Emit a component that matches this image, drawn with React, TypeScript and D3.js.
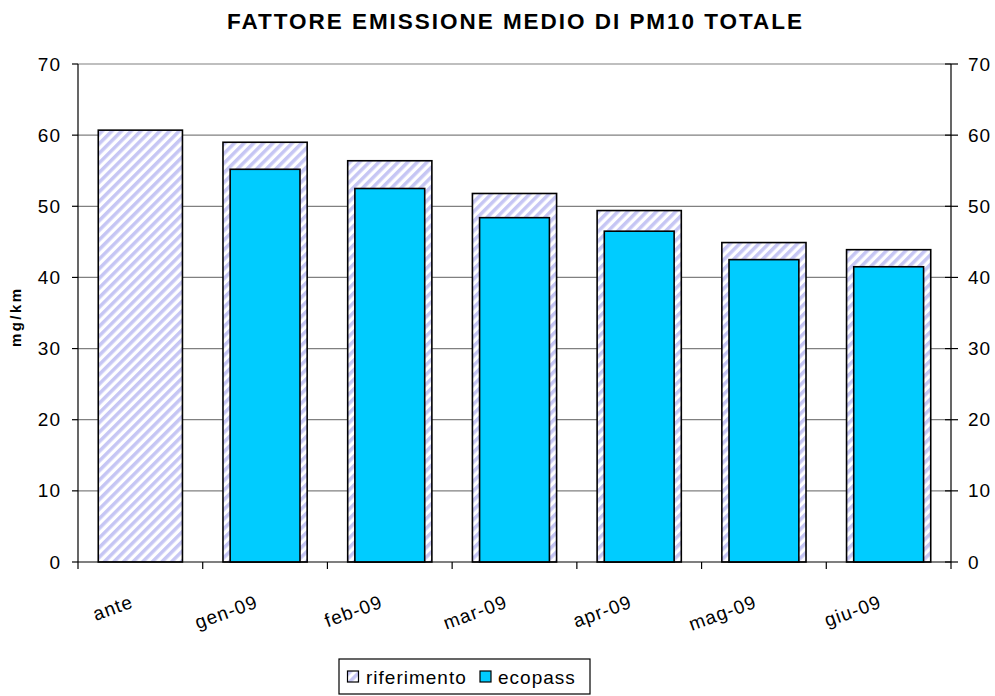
import React from "react";
import * as d3 from "d3";

const categories = ["ante", "gen-09", "feb-09", "mar-09", "apr-09", "mag-09", "giu-09"];
const riferimento = [60.7, 59.0, 56.4, 51.8, 49.4, 44.9, 43.9];
const ecopass: (number | null)[] = [null, 55.2, 52.5, 48.4, 46.5, 42.5, 41.5];
const yTicks = [0, 10, 20, 30, 40, 50, 60, 70];
const title = "FATTORE EMISSIONE MEDIO DI PM10 TOTALE";
const yLabel = "mg/km";
const seriesNames = ["riferimento", "ecopass"];

const W = 995;
const H = 696;
const X0 = 78;
const X1 = 951;
const YTOP = 64;
const YBOT = 562;
const FONT = "'Liberation Sans', Arial, sans-serif";
const CYAN = "#00ccff";
const STRIPE = "#c6c6f4";

export default function App() {
  const x = d3.scaleBand<string>().domain(categories).range([X0, X1]).padding(0);
  const y = d3.scaleLinear().domain([0, 70]).range([YBOT, YTOP]);
  const step = x.step();
  const wRif = step * 0.675;
  const wEco = step * 0.56;
  const midX = (X0 + X1) / 2;

  return (
    <svg
      width={W}
      height={H}
      style={{ position: "absolute", left: 0, top: 0, background: "#fff" }}
      fontFamily={FONT}
    >
      <defs>
        <pattern
          id="hatch"
          width={6.8}
          height={6.8}
          patternUnits="userSpaceOnUse"
          patternTransform="rotate(45)"
        >
          <rect x={0} y={0} width={6.8} height={6.8} fill="#ffffff" />
          <rect x={0} y={0} width={3.5} height={6.8} fill={STRIPE} />
        </pattern>
      </defs>
      <rect x={0} y={0} width={W} height={H} fill="#fff" />

      {/* title */}
      <text
        x={midX}
        y={29}
        textAnchor="middle"
        fontSize={22.5}
        fontWeight="bold"
        textLength={575}
        lengthAdjust="spacing"
        fill="#000"
      >
        {title}
      </text>

      {/* gridlines */}
      {yTicks.filter((t) => t > 0).map((t) => (
        <line key={"g" + t} x1={X0} x2={X1} y1={y(t)} y2={y(t)} stroke="#808080" strokeWidth={1.2} />
      ))}

      {/* bars */}
      {categories.map((c, i) => {
        const cx = (x(c) as number) + step / 2;
        const r = riferimento[i];
        const e = ecopass[i];
        return (
          <g key={c}>
            <rect
              x={cx - wRif / 2}
              y={y(r)}
              width={wRif}
              height={YBOT - y(r)}
              fill="url(#hatch)"
              stroke="#000"
              strokeWidth={1.6}
            />
            {e != null && (
              <rect
                x={cx - wEco / 2}
                y={y(e)}
                width={wEco}
                height={YBOT - y(e)}
                fill={CYAN}
                stroke="#000"
                strokeWidth={1.6}
              />
            )}
          </g>
        );
      })}

      {/* axes */}
      <line x1={X0} x2={X0} y1={YTOP} y2={YBOT} stroke="#000" strokeWidth={1.2} />
      <line x1={X1} x2={X1} y1={YTOP} y2={YBOT} stroke="#000" strokeWidth={1.2} />
      <line x1={X0} x2={X1} y1={YBOT} y2={YBOT} stroke="#000" strokeWidth={1.2} />

      {yTicks.map((t) => (
        <g key={"t" + t}>
          <line x1={X0 - 6} x2={X0} y1={y(t)} y2={y(t)} stroke="#000" strokeWidth={1.2} />
          <line x1={X1 - 6} x2={X1 + 7} y1={y(t)} y2={y(t)} stroke="#000" strokeWidth={1.2} />
          <text
            x={61}
            y={y(t) + 6.5}
            textAnchor="end"
            fontSize={19}
            letterSpacing={1}
            fill="#000"
          >
            {t}
          </text>
          <text x={968} y={y(t) + 6.5} textAnchor="start" fontSize={19} letterSpacing={1} fill="#000">
            {t}
          </text>
        </g>
      ))}

      {/* x ticks */}
      {d3.range(categories.length + 1).map((k) => (
        <line
          key={"xt" + k}
          x1={X0 + k * step}
          x2={X0 + k * step}
          y1={YBOT}
          y2={YBOT + 7}
          stroke="#000"
          strokeWidth={1.2}
        />
      ))}

      {/* x labels */}
      {categories.map((c) => {
        const cx = (x(c) as number) + step / 2;
        return (
          <text
            key={"xl" + c}
            transform={`translate(${cx - 6},${607}) rotate(-20)`}
            textAnchor="end"
            fontSize={19}
            letterSpacing={1}
            fill="#000"
          >
            {c}
          </text>
        );
      })}

      {/* y label */}
      <text
        transform={`translate(21,318) rotate(-90)`}
        textAnchor="middle"
        fontSize={15}
        fontWeight="bold"
        textLength={58}
        lengthAdjust="spacing"
        fill="#000"
      >
        {yLabel}
      </text>

      {/* legend */}
      <rect x={339} y={659} width={251} height={35} fill="#fff" stroke="#000" strokeWidth={1.2} />
      <rect x={347.5} y={671} width={11} height={11} fill="url(#hatch)" stroke="#000" strokeWidth={1.2} />
      <text x={366} y={684} fontSize={19} letterSpacing={1} fill="#000">
        {seriesNames[0]}
      </text>
      <rect x={480} y={671} width={11} height={11} fill={CYAN} stroke="#000" strokeWidth={1.2} />
      <text x={498} y={684} fontSize={19} letterSpacing={1} fill="#000">
        {seriesNames[1]}
      </text>
    </svg>
  );
}
